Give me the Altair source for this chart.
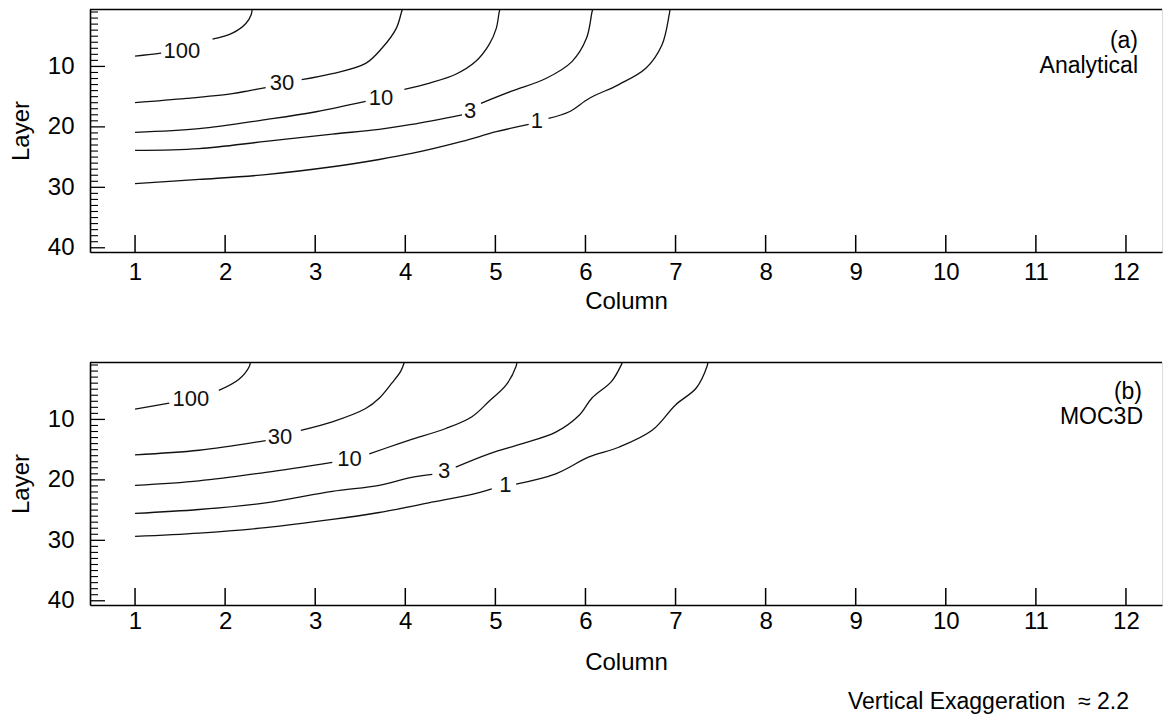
import altair as alt
import pandas as pd

FONT = "Liberation Sans"

COLUMN_TICKS = [1, 2, 3, 4, 5, 6, 7, 8, 9, 10, 11, 12]
LAYER_LABELS = [10, 20, 30, 40]
LAYER_MINOR = [1, 2, 3, 4, 5, 6, 7, 8, 9, 11, 12, 13, 14, 15, 16, 17, 18, 19,
               21, 22, 23, 24, 25, 26, 27, 28, 29, 31, 32, 33, 34, 35, 36, 37, 38, 39]

LEVELS = ["100", "30", "10", "3", "1"]

# ---- Panel (a) Analytical: contour segments as (column, layer) ----
A_100 = [[(1.00, 8.3), (1.15, 8.05), (1.29, 7.8)],
         [(1.86, 5.5), (2.08, 4.5), (2.23, 2.9), (2.29, 1.4), (2.30, 0.5)]]
A_30 = [[(1.00, 16.0), (1.57, 15.3), (2.08, 14.5), (2.27, 14.0), (2.45, 13.5)],
        [(2.85, 12.2), (3.19, 11.2), (3.56, 9.5), (3.74, 7.0), (3.90, 3.7), (3.96, 0.9), (3.97, 0.5)]]
A_10 = [[(1.00, 20.9), (1.71, 20.3), (2.45, 18.8), (3.01, 17.5), (3.56, 15.8)],
        [(3.99, 13.8), (4.26, 12.8), (4.56, 11.3), (4.78, 9.2), (4.93, 6.4), (5.01, 3.7), (5.04, 1.2), (5.05, 0.5)]]
A_3 = [[(1.00, 23.9), (1.71, 23.6), (2.45, 22.4), (3.19, 21.2), (3.71, 20.4), (4.07, 19.6), (4.63, 18.0)],
       [(4.84, 16.1), (5.18, 14.1), (5.56, 12.0), (5.85, 9.2), (6.01, 5.4), (6.07, 1.2), (6.08, 0.5)]]
A_1 = [[(1.00, 29.4), (1.71, 28.7), (2.45, 27.9), (3.19, 26.6), (3.71, 25.4), (4.07, 24.4),
        (4.63, 22.4), (5.01, 20.8), (5.37, 19.6)],
       [(5.59, 18.6), (5.82, 17.5), (6.04, 15.3), (6.37, 13.0), (6.67, 10.3), (6.85, 6.4), (6.93, 1.4), (6.94, 0.5)]]
A_LABEL_COL = [1.52, 2.63, 3.73, 4.72, 5.46]
A_LABEL_LAYER = [7.5, 12.8, 15.2, 17.4, 19.05]

# ---- Panel (b) MOC3D ----
B_100 = [[(1.00, 8.3), (1.38, 7.3)],
         [(1.93, 5.2), (2.15, 3.4), (2.27, 1.2), (2.28, 0.5)]]
B_30 = [[(1.00, 15.85), (1.71, 15.1), (2.45, 13.5)],
        [(2.84, 11.8), (3.19, 10.4), (3.56, 8.2), (3.71, 6.5), (3.85, 4.0), (3.95, 2.0), (3.99, 0.5)]]
B_10 = [[(1.00, 20.9), (1.71, 20.15), (2.45, 18.75), (3.19, 17.1)],
        [(3.60, 15.7), (3.93, 14.0), (4.07, 13.3), (4.45, 11.5), (4.74, 9.55), (4.93, 7.0), (5.12, 4.3),
         (5.23, 1.2), (5.24, 0.5)]]
B_3 = [[(1.00, 25.55), (1.71, 24.9), (2.45, 23.8), (3.19, 21.9), (3.71, 20.9), (4.07, 19.6), (4.30, 19.1)],
       [(4.56, 17.9), (4.93, 15.7), (5.30, 14.0), (5.67, 12.1), (5.93, 9.3), (6.07, 6.5), (6.29, 3.7),
        (6.40, 0.9), (6.41, 0.5)]]
B_1 = [[(1.00, 29.35), (1.71, 28.8), (2.45, 27.9), (3.19, 26.55), (3.71, 25.4), (4.26, 23.8),
        (4.74, 22.4), (4.96, 21.5)],
       [(5.23, 20.7), (5.67, 19.0), (6.04, 16.2), (6.37, 14.6), (6.74, 11.8), (7.00, 7.6), (7.23, 4.8),
        (7.35, 1.2), (7.36, 0.5)]]
B_LABEL_COL = [1.62, 2.61, 3.38, 4.43, 5.11]
B_LABEL_LAYER = [6.7, 12.9, 16.5, 18.6, 20.9]

W = 1072
H = 243
X_DOMAIN = [0.5, 12.40]
Y_DOMAIN = [0.5, 40.7]


def panel(contours, lab_cols, lab_layers, tag, name, tag_pos, name_pos,
          xlabpad, xtitlepad, footer=None):
    rows = []
    for level, segs in zip(LEVELS, contours):
        for si, seg in enumerate(segs):
            for pi, (c, l) in enumerate(seg):
                rows.append({"level": level, "seg": f"{level}-{si}", "i": pi,
                             "col": c, "layer": l})
    df = pd.DataFrame(rows)
    labels = pd.DataFrame({"col": lab_cols, "layer": lab_layers, "text": LEVELS})

    xs = alt.Scale(domain=X_DOMAIN, nice=False, zero=False)
    ys = alt.Scale(domain=Y_DOMAIN, reverse=True, nice=False, zero=False)
    xaxis = alt.Axis(values=COLUMN_TICKS, title="Column", ticks=False, tickSize=0, grid=False,
                     labelPadding=xlabpad, titlePadding=xtitlepad, domainColor="black",
                     domainWidth=1.6, labelFontSize=24, titleFontSize=24, labelFont=FONT,
                     titleFont=FONT, titleFontWeight="normal", labelColor="black",
                     titleColor="black", labelFlush=False)
    yaxis = alt.Axis(values=LAYER_LABELS, title="Layer", ticks=False, tickSize=0, grid=False,
                     labelPadding=16, titlePadding=14, domainColor="black", domainWidth=1.6,
                     labelFontSize=24, titleFontSize=24, labelFont=FONT, titleFont=FONT,
                     titleFontWeight="normal", labelColor="black", titleColor="black",
                     labelFlush=False)
    X = alt.X("col:Q", scale=xs, axis=xaxis)
    Y = alt.Y("layer:Q", scale=ys, axis=yaxis)

    lines = alt.Chart(df).mark_line(color="#111111", strokeWidth=1.3, clip=True,
                                    interpolate="catmull-rom").encode(
        x=X, y=Y, detail="seg:N", order="i:Q")
    text = alt.Chart(labels).mark_text(font=FONT, fontSize=22, color="#111111",
                                       align="center", baseline="middle").encode(
        x=X, y=Y, text="text:N")
    xt = alt.Chart(pd.DataFrame({"col": COLUMN_TICKS})).mark_rule(
        color="black", strokeWidth=1.5).encode(x=X, y=alt.value(H), y2=alt.value(H - 17))
    ymaj = alt.Chart(pd.DataFrame({"layer": LAYER_LABELS})).mark_rule(
        color="black", strokeWidth=1.3).encode(y=Y, x=alt.value(0), x2=alt.value(15))
    ymin = alt.Chart(pd.DataFrame({"layer": LAYER_MINOR})).mark_rule(
        color="black", strokeWidth=1.1).encode(y=Y, x=alt.value(0), x2=alt.value(8))
    one = pd.DataFrame({"a": [0]})
    top = alt.Chart(one).mark_rule(color="black", strokeWidth=1.6).encode(
        x=alt.value(0), x2=alt.value(W), y=alt.value(0.5))
    t1 = alt.Chart(one).mark_text(text=tag, font=FONT, fontSize=23, align="right",
                                  baseline="middle", color="black").encode(
        x=alt.value(tag_pos[0]), y=alt.value(tag_pos[1]))
    t2 = alt.Chart(one).mark_text(text=name, font=FONT, fontSize=23, align="right",
                                  baseline="middle", color="black").encode(
        x=alt.value(name_pos[0]), y=alt.value(name_pos[1]))
    layers = [lines, text, xt, ymaj, ymin, top, t1, t2]
    if footer is not None:
        layers.append(alt.Chart(one).mark_text(text=footer, font=FONT, fontSize=23,
                                               align="right", baseline="middle",
                                               color="black").encode(
            x=alt.value(1039), y=alt.value(340)))
    return alt.layer(*layers).properties(width=W, height=H)


top_panel = panel([A_100, A_30, A_10, A_3, A_1], A_LABEL_COL, A_LABEL_LAYER,
                  "(a)", "Analytical", (1048, 31.5), (1048, 56.5), 8, 5)
bottom_panel = panel([B_100, B_30, B_10, B_3, B_1], B_LABEL_COL, B_LABEL_LAYER,
                     "(b)", "MOC3D", (1052, 29.5), (1053, 54.5), 4, 17,
                     footer="Vertical Exaggeration \u00a0\u2248 2.2")

chart = alt.vconcat(top_panel, bottom_panel, spacing=47).properties(
    padding=0).configure_view(stroke=None).configure(font=FONT)

chart.save("out.html", embed_options={"renderer": "svg", "actions": False})
